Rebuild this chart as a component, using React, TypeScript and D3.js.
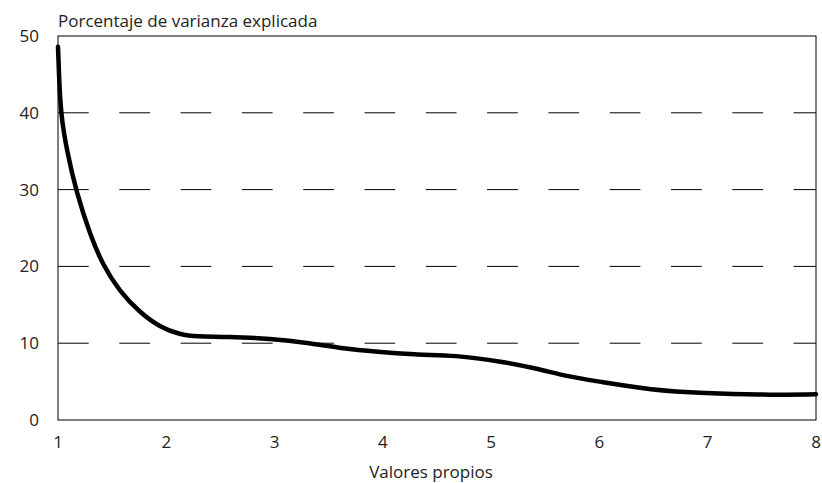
import React from "react";
import * as d3 from "d3";

const xVals = [1, 1.01, 1.028, 1.08, 1.17, 1.3, 1.41, 1.57, 1.757, 1.94, 2.13, 2.28, 2.56, 2.96, 3.33, 3.63, 3.94, 4.34, 4.65, 5.11, 5.42, 5.73, 6.0, 6.47, 6.99, 7.45, 8.0];
const yVals = [48.6, 44.5, 39.6, 35.2, 29.6, 24.0, 20.3, 16.7, 14.0, 12.1, 11.1, 10.85, 10.85, 10.6, 10.0, 9.3, 8.9, 8.46, 8.46, 7.6, 6.7, 5.6, 5.0, 3.9, 3.47, 3.26, 3.35];
const xTicks = [1, 2, 3, 4, 5, 6, 7, 8];
const yTicks = [0, 10, 20, 30, 40, 50];
const gridTicks = [10, 20, 30, 40];
const yTitle = "Porcentaje de varianza explicada";
const xTitle = "Valores propios";

const W = 822, H = 483;
const L = 58, R = 816, T = 36, B = 420;
const FONT = "'Open Sans', 'Noto Sans', sans-serif";

export default function App() {
  const x = d3.scaleLinear().domain([1, 8]).range([L, R]);
  const y = d3.scaleLinear().domain([0, 50]).range([B, T]);
  const pts = xVals.map((v, i) => [v, yVals[i]] as [number, number]);
  const line = d3.line<[number, number]>().x(d => x(d[0])).y(d => y(d[1])).curve(d3.curveBasis);
  return (
    <svg width={W} height={H} style={{ position: "absolute", left: 0, top: 0, background: "#fff" }}>
      <rect x={0} y={0} width={W} height={H} fill="#fff" />
      {gridTicks.map(t => (
        <line key={t} x1={L} x2={R} y1={y(t)} y2={y(t)} stroke="#000" strokeWidth={1} strokeDasharray="30.7 30.6" />
      ))}
      <rect x={L} y={T} width={R - L} height={B - T} fill="none" stroke="#000" strokeWidth={1} />
      <path d={line(pts) || ""} fill="none" stroke="#000" strokeWidth={4.5} strokeLinecap="round" strokeLinejoin="round" />
      {yTicks.map(t => (
        <text key={t} x={39} y={y(t)} dy="0.35em" textAnchor="end" fontFamily={FONT} fontSize={17} fill="#222">{t}</text>
      ))}
      {xTicks.map(t => (
        <text key={t} x={x(t)} y={448} textAnchor="middle" fontFamily={FONT} fontSize={17} fill="#222">{t}</text>
      ))}
      <text x={58} y={27} fontFamily={FONT} fontSize={17} fill="#222">{yTitle}</text>
      <text x={431} y={478} textAnchor="middle" fontFamily={FONT} fontSize={17} fill="#222">{xTitle}</text>
    </svg>
  );
}
